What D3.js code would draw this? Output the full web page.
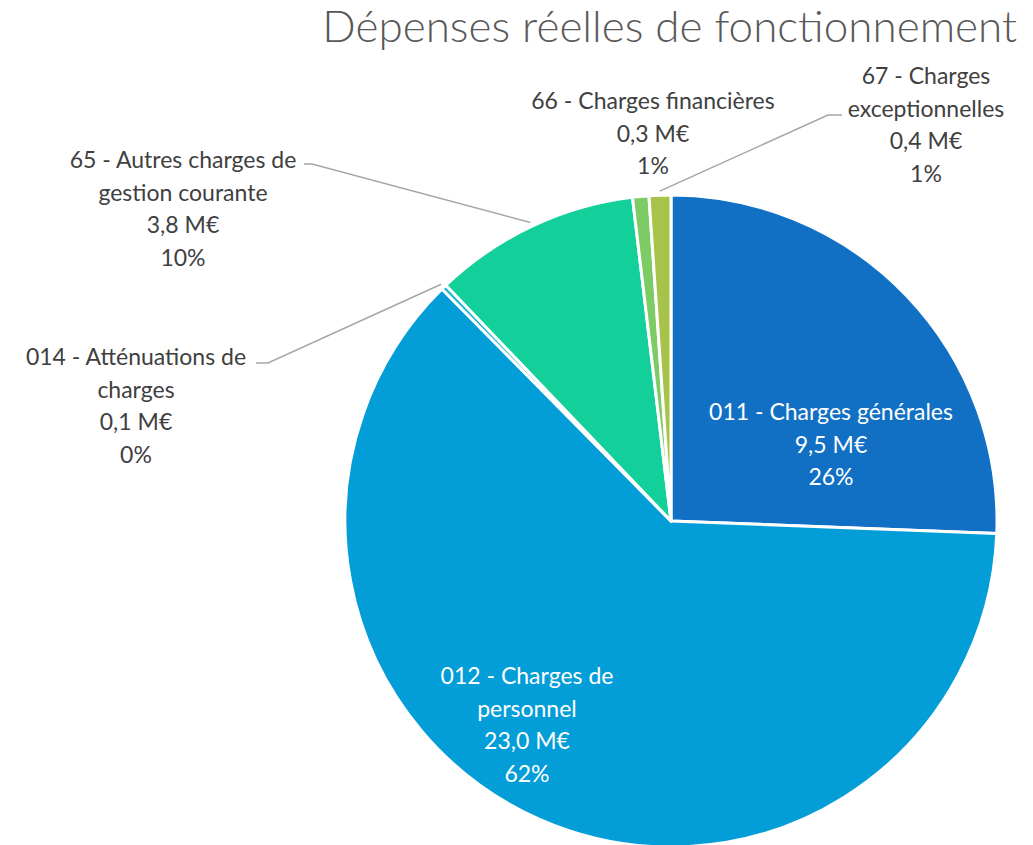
<!DOCTYPE html>
<html>
<head>
<meta charset="utf-8">
<script src="https://cdn.jsdelivr.net/npm/d3@7"></script>
<style>
  body { margin: 0; background: white; }
  text { font-family: Lato, "Open Sans", sans-serif; }
</style>
</head>
<body>
<script>
// data
var categories = ["011 - Charges générales", "012 - Charges de personnel", "014 - Atténuations de charges",
  "65 - Autres charges de gestion courante", "66 - Charges financières", "67 - Charges exceptionnelles"];
var values = [9.5, 23.0, 0.1, 3.8, 0.3, 0.4];
var percents = ["26%", "62%", "0%", "10%", "1%", "1%"];
// label lines as displayed (wrapped)
var labelLines = [
  ["011 - Charges générales"],
  ["012 - Charges de", "personnel"],
  ["014 - Atténuations de", "charges"],
  ["65 - Autres charges de", "gestion courante"],
  ["66 - Charges financières"],
  ["67 - Charges", "exceptionnelles"]
];
var colors = ["#1170c4", "#039dd8", "#1ab8d6", "#13cf9a", "#7dcb64", "#a8c34a"];

var width = 1033, height = 845;
var cx = 671, cy = 521, radius = 326;

// where the label blocks sit (center x, first baseline y), and leader elbows
var labelPos = [
  {x: 831, y: 420, inside: true},
  {x: 527, y: 684, inside: true},
  {x: 136, y: 365, elbow: [[256, 363], [268, 363]]},
  {x: 183, y: 168, elbow: [[304, 164], [312, 164]]},
  {x: 653, y: 109},
  {x: 926, y: 84, elbow: [[842, 115], [828, 115]]}
];
var lineH = 32.5;

var svg = d3.select("body").append("svg")
  .attr("width", width)
  .attr("height", height);

svg.append("text")
  .attr("x", 1017)
  .attr("y", 42)
  .attr("text-anchor", "end")
  .style("font-size", "44px")
  .style("font-weight", 300)
  .style("fill", "#595959")
  .text("Dépenses réelles de fonctionnement");

var pie = d3.pie().sort(null).value(function(d) { return d; });
var arcs = pie(values);
var arc = d3.arc().innerRadius(0).outerRadius(radius);

var g = svg.append("g").attr("transform", "translate(" + cx + "," + cy + ")");

g.selectAll("path")
  .data(arcs)
  .enter()
  .append("path")
  .attr("d", arc)
  .attr("fill", function(d, i) { return colors[i]; })
  .attr("stroke", "white")
  .attr("stroke-width", 3)
  .attr("stroke-linejoin", "round");

// leader lines
var edge = d3.arc().innerRadius(radius + 4).outerRadius(radius + 4);
arcs.forEach(function(d, i) {
  var p = labelPos[i];
  if (!p.elbow) return;
  var c = edge.centroid(d);
  var pts = p.elbow.concat([[cx + c[0], cy + c[1]]]);
  svg.append("path")
    .attr("d", d3.line()(pts))
    .attr("fill", "none")
    .attr("stroke", "#a6a6a6")
    .attr("stroke-width", 1.5);
});

// labels
arcs.forEach(function(d, i) {
  var p = labelPos[i];
  var lines = labelLines[i].concat([d3.format(".1f")(values[i]).replace(".", ",") + " M€", percents[i]]);
  var t = svg.append("text")
    .attr("text-anchor", "middle")
    .style("font-size", "23px")
    .style("fill", p.inside ? "white" : "#404040");
  lines.forEach(function(l, j) {
    t.append("tspan").attr("x", p.x).attr("y", p.y + j * lineH).text(l);
  });
});
</script>
</body>
</html>
